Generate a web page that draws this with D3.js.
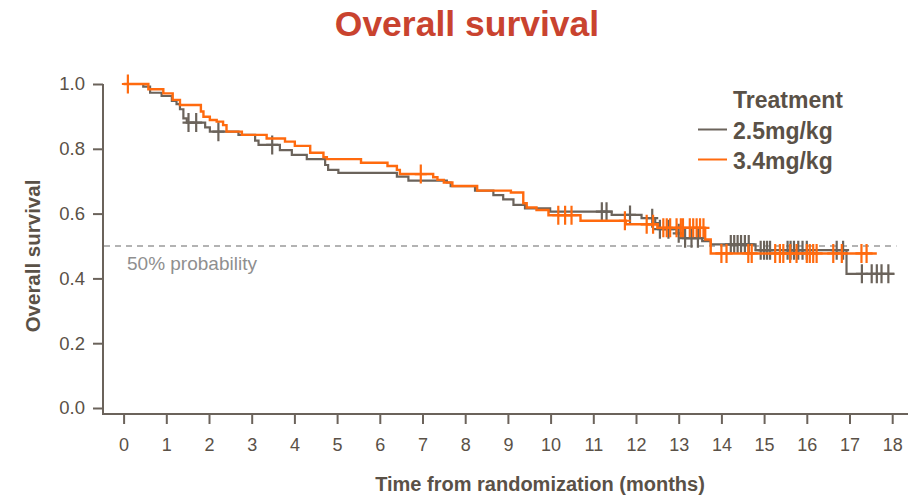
<!DOCTYPE html>
<html>
<head>
<meta charset="utf-8">
<script src="https://cdn.jsdelivr.net/npm/d3@7"></script>
<style>
  html, body { margin: 0; padding: 0; background: #ffffff; }
  svg { display: block; font-family: "Liberation Sans", Arial, sans-serif; }
</style>
</head>
<body>
<svg id="chart" width="912" height="498"></svg>
<script>
// ---------- data ----------
const seriesNames = ["2.5mg/kg", "3.4mg/kg"];
const xTicks = [0,1,2,3,4,5,6,7,8,9,10,11,12,13,14,15,16,17,18];
const yTicks = [0.0, 0.2, 0.4, 0.6, 0.8, 1.0];
const refProb = 0.5;
const refLabel = "50% probability";

const grayTimes = [0, 0.46, 0.62, 0.89, 1.13, 1.24, 1.32, 1.40, 1.48, 1.91, 2.02, 2.69, 3.08, 3.16, 3.66, 3.94, 4.29, 4.72, 4.79, 5.03, 6.40, 6.67, 7.57, 7.66, 8.23, 8.66, 8.89, 9.13, 9.40, 9.99, 11.43, 12.13, 12.45, 12.52, 12.95, 13.10, 13.55, 13.75, 14.80, 16.93];
const graySurv  = [1.0, 0.992, 0.973, 0.963, 0.948, 0.938, 0.922, 0.894, 0.881, 0.866, 0.853, 0.843, 0.825, 0.812, 0.796, 0.781, 0.768, 0.750, 0.735, 0.726, 0.714, 0.702, 0.696, 0.685, 0.671, 0.657, 0.644, 0.627, 0.616, 0.606, 0.596, 0.586, 0.571, 0.552, 0.539, 0.524, 0.515, 0.505, 0.487, 0.414];
const grayEnd = 18.05;
const grayCensor = [1.52, 1.70, 2.22, 3.48, 11.20, 11.31, 11.86, 12.38, 12.56, 12.76, 13.00, 13.15, 13.30, 13.45, 14.22, 14.30, 14.38, 14.46, 14.55, 14.64, 14.92, 15.00, 15.07, 15.14, 15.55, 15.62, 15.70, 15.80, 15.90, 16.00, 16.70, 16.85, 17.29, 17.52, 17.64, 17.75, 17.91];

const orangeTimes = [0, 0.58, 0.93, 1.15, 1.32, 1.81, 1.87, 2.02, 2.18, 2.33, 2.41, 2.77, 3.35, 3.78, 4.01, 4.37, 4.68, 4.76, 5.56, 6.18, 6.40, 6.47, 7.25, 7.35, 7.50, 7.70, 8.28, 9.07, 9.36, 9.44, 9.67, 9.95, 10.70, 11.76, 12.50, 13.62, 13.75];
const orangeSurv  = [1.0, 0.984, 0.971, 0.951, 0.935, 0.915, 0.899, 0.889, 0.884, 0.873, 0.853, 0.843, 0.832, 0.822, 0.809, 0.788, 0.774, 0.768, 0.757, 0.747, 0.735, 0.722, 0.712, 0.704, 0.696, 0.685, 0.671, 0.665, 0.632, 0.619, 0.611, 0.595, 0.578, 0.567, 0.556, 0.520, 0.477];
const orangeEnd = 17.64;
const orangeCensor = [0.10, 6.96, 10.18, 10.34, 10.49, 11.74, 12.25, 12.40, 12.64, 12.72, 12.80, 12.95, 13.05, 13.10, 13.26, 13.34, 13.42, 13.50, 13.58, 14.00, 14.12, 14.63, 14.71, 15.26, 15.37, 15.45, 15.61, 15.76, 16.00, 16.07, 16.15, 16.23, 16.62, 16.82, 17.28, 17.40];

// ---------- styles ----------
const colGray = "#6b635b";
const colOrange = "#ff6a0e";
const colText = "#5a5147";
const colTitle = "#c9432f";

const svg = d3.select("#chart");

const x = d3.scaleLinear().domain([0, 18]).range([123.6, 892.2]);
const y = d3.scaleLinear().domain([0, 1]).range([408, 84]);

// title
svg.append("text")
  .attr("x", 467).attr("y", 36)
  .attr("text-anchor", "middle")
  .attr("font-size", 35.5).attr("font-weight", "bold")
  .attr("fill", colTitle)
  .text("Overall survival");

// y axis
const yAxis = d3.axisLeft(y).tickValues(yTicks).tickFormat(d3.format(".1f")).tickSize(10).tickSizeOuter(0).tickPadding(8);
const gy = svg.append("g").attr("transform", "translate(103,0)").call(yAxis);
gy.select(".domain").remove();
gy.selectAll(".tick line").attr("stroke", colGray).attr("stroke-width", 2);
gy.selectAll(".tick text").attr("fill", colText).attr("font-size", 18.5).attr("font-family", "Liberation Sans, Arial, sans-serif");
svg.append("line").attr("x1", 103).attr("x2", 103).attr("y1", y(1)).attr("y2", 415)
  .attr("stroke", colGray).attr("stroke-width", 2);

// x axis
const xAxis = d3.axisBottom(x).tickValues(xTicks).tickFormat(d3.format("d")).tickSize(10).tickSizeOuter(0).tickPadding(14);
const gx = svg.append("g").attr("transform", "translate(0,414)").call(xAxis);
gx.select(".domain").remove();
gx.selectAll(".tick line").attr("stroke", colGray).attr("stroke-width", 2);
gx.selectAll(".tick text").attr("fill", colText).attr("font-size", 18).attr("font-family", "Liberation Sans, Arial, sans-serif");
svg.append("line").attr("x1", 102).attr("x2", 908).attr("y1", 414).attr("y2", 414)
  .attr("stroke", colGray).attr("stroke-width", 2);

// axis titles
svg.append("text")
  .attr("x", 540).attr("y", 491)
  .attr("text-anchor", "middle")
  .attr("font-size", 20).attr("font-weight", "bold")
  .attr("fill", colText)
  .text("Time from randomization (months)");
svg.append("text")
  .attr("transform", "translate(40,256) rotate(-90)")
  .attr("text-anchor", "middle")
  .attr("font-size", 20.5).attr("font-weight", "bold")
  .attr("fill", colText)
  .text("Overall survival");

// reference line
svg.append("line")
  .attr("x1", 104).attr("x2", x(18.1))
  .attr("y1", y(refProb)).attr("y2", y(refProb))
  .attr("stroke", "#9a9a9a").attr("stroke-width", 1.5).attr("stroke-dasharray", "6,5");
svg.append("text")
  .attr("x", 127).attr("y", 270)
  .attr("font-size", 19).attr("fill", "#8f8f8f")
  .text(refLabel);

// curves
function stepPoints(times, surv, end) {
  const pts = times.map((t, i) => [t, surv[i]]);
  pts.push([end, surv[surv.length - 1]]);
  return pts;
}
function survAt(times, surv, t) {
  let s = surv[0];
  for (let i = 0; i < times.length; i++) { if (times[i] <= t) s = surv[i]; }
  return s;
}
const line = d3.line().x(d => x(d[0])).y(d => y(d[1])).curve(d3.curveStepAfter);

const series = [
  { name: seriesNames[0], times: grayTimes, surv: graySurv, end: grayEnd, censor: grayCensor, color: colGray, width: 2.2 },
  { name: seriesNames[1], times: orangeTimes, surv: orangeSurv, end: orangeEnd, censor: orangeCensor, color: colOrange, width: 2.4 }
];

series.forEach(s => {
  const g = svg.append("g");
  g.append("path")
    .attr("d", line(stepPoints(s.times, s.surv, s.end)))
    .attr("fill", "none").attr("stroke", s.color).attr("stroke-width", s.width);
  g.selectAll("path.cens").data(s.censor).enter().append("path")
    .attr("class", "cens")
    .attr("d", t => {
      const cx = x(t), cy = y(survAt(s.times, s.surv, t));
      return `M${cx},${cy - 9.5}V${cy + 9.5}M${cx - 6},${cy}H${cx + 6}`;
    })
    .attr("stroke", s.color).attr("stroke-width", 2.2).attr("fill", "none");
});

// legend
const lg = svg.append("g");
lg.append("text").attr("x", 733).attr("y", 108)
  .attr("font-size", 23).attr("font-weight", "bold").attr("fill", colText).text("Treatment");
series.forEach((s, i) => {
  const ly = 129.5 + i * 30;
  lg.append("line").attr("x1", 698).attr("x2", 727).attr("y1", ly).attr("y2", ly)
    .attr("stroke", s.color).attr("stroke-width", 2);
  lg.append("text").attr("x", 733).attr("y", ly + 9)
    .attr("font-size", 23).attr("font-weight", "bold").attr("fill", colText).text(s.name);
});
</script>
</body>
</html>
